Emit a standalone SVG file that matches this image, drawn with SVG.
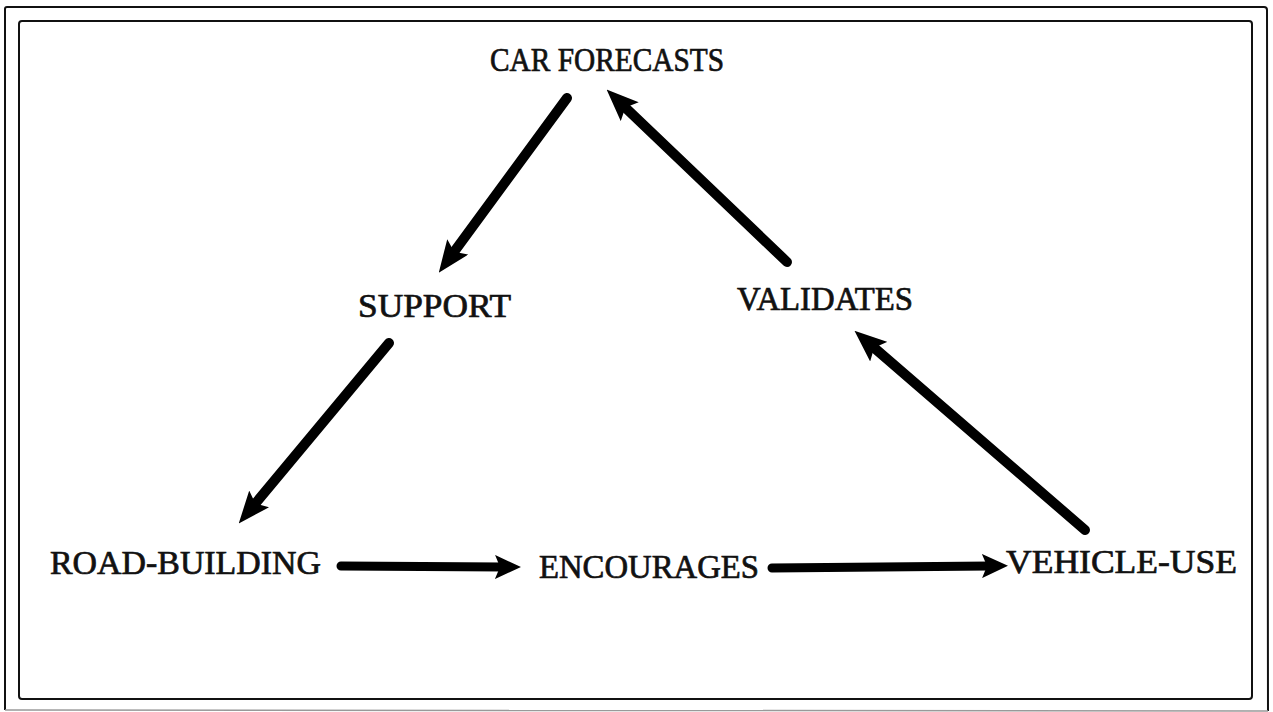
<svg xmlns="http://www.w3.org/2000/svg" width="1273" height="712" viewBox="0 0 1273 712">
  <style>
    .frame { fill: none; stroke: #111; stroke-width: 2; }
    .label { font-family: "Liberation Serif", "DejaVu Serif", serif; font-size: 33px; fill: #111; stroke: #111; stroke-width: 0.7; }
    .link { stroke: #000; stroke-width: 10; stroke-linecap: round; fill: none; }
    .link.flat { stroke-width: 9; }
  </style>
  <defs>
    <!-- barbed arrowhead; the shaft ends 10 units inside the head -->
    <marker id="head" viewBox="0 0 32 26" refX="10" refY="13" markerWidth="32" markerHeight="26" markerUnits="userSpaceOnUse" orient="auto">
      <path d="M0,0 L32,13 L0,26 L6,13 Z" fill="#000"/>
    </marker>
    <marker id="head-flat" viewBox="0 0 26 24" refX="8" refY="12" markerWidth="26" markerHeight="24" markerUnits="userSpaceOnUse" orient="auto">
      <path d="M0,0 L26,12 L0,24 L5,12 Z" fill="#000"/>
    </marker>
  </defs>
  <rect width="1273" height="712" fill="#fff"/>

  <!-- double border -->
  <path class="frame" d="M5,710 L5,9 Q5,7 7,7 L1264,7 Q1267,7 1267,10 L1268,711"/>
  <path d="M5,710 L1268,711" stroke="#999" stroke-width="1.5" fill="none"/>
  <rect class="frame" x="19" y="21" width="1233" height="678" rx="3"/>

  <g id="connectors">
    <line class="link" x1="567" y1="98" x2="451.8" y2="254.9" marker-end="url(#head)"/>
    <line class="link" x1="389" y1="343" x2="252.8" y2="506.6" marker-end="url(#head)"/>
    <line class="link flat" x1="341" y1="566" x2="503" y2="567" marker-end="url(#head-flat)"/>
    <line class="link flat" x1="772" y1="568" x2="990" y2="566" marker-end="url(#head-flat)"/>
    <line class="link" x1="1085" y1="530" x2="871.1" y2="345.1" marker-end="url(#head)"/>
    <line class="link" x1="787" y1="262" x2="622.5" y2="104.8" marker-end="url(#head)"/>
  </g>

  <g id="car-forecasts">
    <text class="label" x="490" y="71" textLength="234" lengthAdjust="spacingAndGlyphs">CAR FORECASTS</text>
  </g>
  <g id="support">
    <text class="label" x="358" y="317" textLength="153" lengthAdjust="spacingAndGlyphs">SUPPORT</text>
  </g>
  <g id="validates">
    <text class="label" x="737" y="310" textLength="176" lengthAdjust="spacingAndGlyphs">VALIDATES</text>
  </g>
  <g id="road-building">
    <text class="label" x="50" y="574" textLength="271" lengthAdjust="spacingAndGlyphs">ROAD-BUILDING</text>
  </g>
  <g id="encourages">
    <text class="label" x="539" y="578" textLength="220" lengthAdjust="spacingAndGlyphs">ENCOURAGES</text>
  </g>
  <g id="vehicle-use">
    <text class="label" x="1006" y="573" textLength="231" lengthAdjust="spacingAndGlyphs">VEHICLE-USE</text>
  </g>
</svg>
